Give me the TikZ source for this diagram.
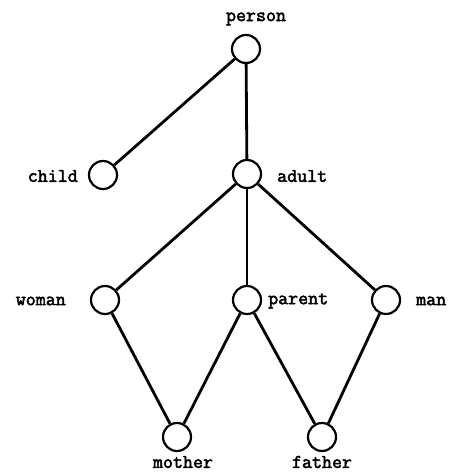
\documentclass[tikz,border=0pt]{standalone}
\usepackage{fontspec}
\newfontfamily\lblfont{Latin Modern Mono}[FakeBold=2.5]
\begin{document}
\begin{tikzpicture}[x=1bp,y=-1bp,
  vert/.style={circle,draw,line width=2.2bp,minimum size=28bp,inner sep=0pt},
  lbl/.style={font=\lblfont\fontsize{19.5}{19.5}\selectfont,inner sep=0pt},
  edge/.style={line width=2.8bp}]
\useasboundingbox (0,0) rectangle (449,473);
\node[vert] (person) at (246,49) {};
\node[vert] (child) at (103,175) {};
\node[vert] (adult) at (247,174) {};
\node[vert] (woman) at (105,300) {};
\node[vert] (parent) at (247,300) {};
\node[vert] (man) at (386,300) {};
\node[vert] (mother) at (177,437) {};
\node[vert] (father) at (322,437) {};
\node[lbl] (personl) at (256,19) {person};
\node[lbl,anchor=east] (childl) at (78,176) {child};
\node[lbl,anchor=west] (adultl) at (277,176) {adult};
\node[lbl,anchor=east] (womanl) at (66,301) {woman};
\node[lbl,anchor=west] (parentl) at (268,301) {parent};
\node[lbl,anchor=west] (manl) at (416,301) {man};
\node[lbl] (motherl) at (183,462) {mother};
\node[lbl] (fatherl) at (322,462) {father};
\draw[edge] (person) -- (child);
\draw[edge] (person) -- (adult);
\draw[edge] (adult) -- (woman);
\draw[edge] (adult) -- (parent);
\draw[edge] (adult) -- (man);
\draw[edge] (woman) -- (mother);
\draw[edge] (parent) -- (mother);
\draw[edge] (parent) -- (father);
\draw[edge] (man) -- (father);
\end{tikzpicture}
\end{document}
